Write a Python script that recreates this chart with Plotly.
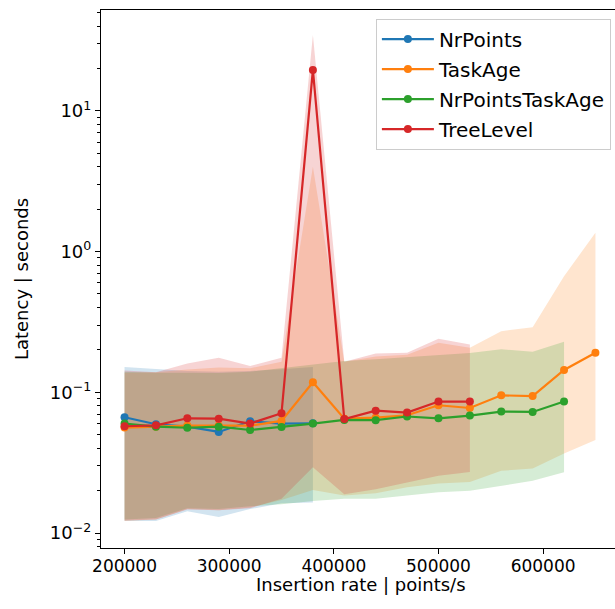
import plotly.graph_objects as go
import numpy as np

# ---------------- data ----------------
x_all = [200000, 230000, 260000, 290000, 320000, 350000, 380000, 410000,
         440000, 470000, 500000, 530000, 560000, 590000, 620000, 650000]

names = ["NrPoints", "TaskAge", "NrPointsTaskAge", "TreeLevel"]
colors = ["#1f77b4", "#ff7f0e", "#2ca02c", "#d62728"]

nrpoints_med = [0.0665, 0.0593, 0.057, 0.0523, 0.0623, 0.060, 0.0603]
nrpoints_lo = [0.0122, 0.0122, 0.0143, 0.0130, 0.0148, 0.0163, 0.0165]
nrpoints_hi = [0.151, 0.146, 0.142, 0.140, 0.142, 0.146, 0.151]

taskage_med = [0.0562, 0.057, 0.058, 0.058, 0.058, 0.0626, 0.118, 0.065,
               0.066, 0.0687, 0.0809, 0.0774, 0.0952, 0.094, 0.144, 0.191]
taskage_lo = [0.0122, 0.0125, 0.0148, 0.0145, 0.0152, 0.0172, 0.0202, 0.0185,
              0.0192, 0.0212, 0.0225, 0.0231, 0.0277, 0.0288, 0.0367, 0.0459]
taskage_hi = [0.138, 0.139, 0.145, 0.150, 0.148, 0.165, 4.0, 0.165,
              0.180, 0.185, 0.225, 0.207, 0.272, 0.290, 0.668, 1.36]

nptaskage_med = [0.060, 0.057, 0.056, 0.057, 0.054, 0.0568, 0.060, 0.0637,
                 0.0634, 0.0673, 0.0654, 0.0683, 0.073, 0.0725, 0.086]
nptaskage_lo = [0.0125, 0.0128, 0.0150, 0.0148, 0.0155, 0.0160, 0.0169, 0.0175,
                0.0175, 0.0185, 0.0195, 0.0200, 0.0217, 0.0235, 0.0270]
nptaskage_hi = [0.140, 0.138, 0.138, 0.137, 0.140, 0.148, 0.158, 0.167,
                0.172, 0.178, 0.183, 0.190, 0.202, 0.194, 0.229]

treelevel_med = [0.0574, 0.0583, 0.0654, 0.065, 0.060, 0.071, 19.5, 0.0646,
                 0.0741, 0.0718, 0.086, 0.086]
treelevel_lo = [0.0123, 0.0125, 0.0147, 0.0145, 0.0150, 0.0175, 0.0294, 0.0189,
                0.0205, 0.0229, 0.0255, 0.0272]
treelevel_hi = [0.143, 0.139, 0.160, 0.176, 0.154, 0.176, 34.6, 0.165,
                0.189, 0.191, 0.240, 0.219]

x_tick_vals = [200000, 300000, 400000, 500000, 600000]
x_tick_text = ["200000", "300000", "400000", "500000", "600000"]
y_tick_vals = [0.01, 0.1, 1, 10]
y_tick_text = ["10<sup>\u22122</sup>", "10<sup>\u22121</sup>", "10<sup>0</sup>", "10<sup>1</sup>"]
x_title = "Insertion rate | points/s"
y_title = "Latency | seconds"

series = [
    (nrpoints_med, nrpoints_lo, nrpoints_hi),
    (taskage_med, taskage_lo, taskage_hi),
    (nptaskage_med, nptaskage_lo, nptaskage_hi),
    (treelevel_med, treelevel_lo, treelevel_hi),
]


def rgba(hexc, a):
    h = hexc.lstrip("#")
    r, g, b = int(h[0:2], 16), int(h[2:4], 16), int(h[4:6], 16)
    return f"rgba({r},{g},{b},{a})"


fig = go.Figure()

# bands
for (med, lo, hi), c in zip(series, colors):
    xs = x_all[:len(med)]
    fig.add_trace(go.Scatter(
        x=xs + xs[::-1], y=hi + lo[::-1], fill="toself",
        fillcolor=rgba(c, 0.2), line=dict(width=0), mode="lines",
        hoverinfo="skip", showlegend=False))

# lines
for i, ((med, lo, hi), c, n) in enumerate(zip(series, colors, names)):
    xs = x_all[:len(med)]
    fig.add_trace(go.Scatter(
        x=xs, y=med, mode="lines+markers", name=n, legendgroup=n,
        line=dict(color=c, width=2.2), marker=dict(color=c, size=8)))

minor_vals = []
for e in range(-3, 2):
    for m in range(2, 10):
        minor_vals.append(m * 10 ** e)

fig.update_layout(
    width=615, height=609,
    margin=dict(l=101, r=0, t=10, b=61),
    paper_bgcolor="white", plot_bgcolor="white",
    font=dict(family="DejaVu Sans", size=17, color="black"),
    legend=dict(x=0.992, xanchor="right", y=0.984, yanchor="top",
                bgcolor="rgba(255,255,255,0.8)", bordercolor="#cccccc",
                borderwidth=1, font=dict(size=20), tracegroupgap=1,
                itemwidth=52),
    xaxis=dict(range=[177500, 668700], showgrid=False, zeroline=False,
               showline=True, linecolor="black", linewidth=1.2, mirror=True,
               ticks="outside", ticklen=5, tickcolor="black",
               tickvals=x_tick_vals, ticktext=x_tick_text,
               tickfont=dict(size=17), ticklabelstandoff=-3),
    yaxis=dict(type="log", range=[-2.106, 1.716], showgrid=False, zeroline=False,
               showline=True, linecolor="black", linewidth=1.2,
               ticks="outside", ticklen=5, tickcolor="black",
               tickvals=y_tick_vals, ticktext=y_tick_text,
               tickfont=dict(size=18),
               minor=dict(ticks="outside", ticklen=3, tickcolor="black",
                          tickvals=minor_vals, showgrid=False),
               title=dict(text=y_title, standoff=16, font=dict(size=18))),
    annotations=[dict(text=x_title, xref="paper", yref="paper",
                      x=0.505, y=-0.0455, xanchor="center", yanchor="top",
                      showarrow=False, font=dict(size=18))],
)

fig.write_html("out.html")
